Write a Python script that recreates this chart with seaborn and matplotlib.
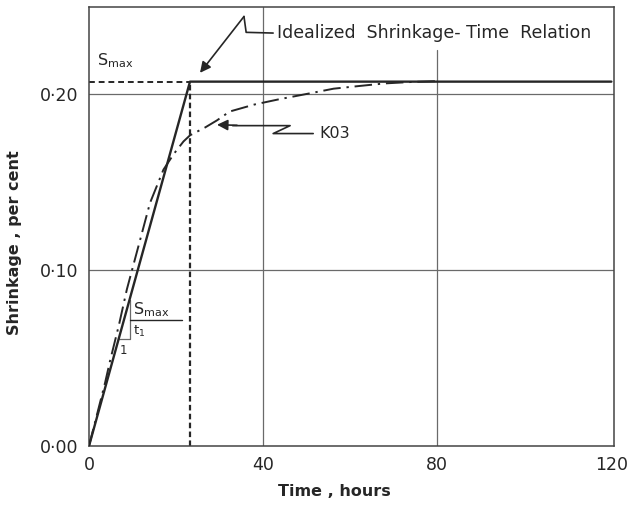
import matplotlib
matplotlib.use("Agg")
import matplotlib.pyplot as plt
import seaborn as sns
import pandas as pd

# ---- data ----
k03_time = [0, 3.7, 4.8, 6.9, 8.7, 11.3, 14.0, 17.1, 19.5, 21.7, 23.2, 26.7, 29.4,
            32.3, 38.0, 43.7, 50.0, 56.2, 62.0, 68.0, 74.0, 80.0]
k03_shrink = [0, 0.036, 0.048, 0.069, 0.089, 0.113, 0.138, 0.157, 0.166, 0.173, 0.1765,
              0.181, 0.185, 0.190, 0.194, 0.197, 0.200, 0.203, 0.2045, 0.206, 0.2068, 0.2073]
s_max = 0.207
t_1 = 23.2
ideal_time = [0, t_1, 120]
ideal_shrink = [0, s_max, s_max]
x_ticks = [0, 40, 80, 120]
x_labels = ["0", "40", "80", "120"]
y_ticks = [0.0, 0.10, 0.20]
y_labels = ["0·00", "0·10", "0·20"]

k03_df = pd.DataFrame({"time": k03_time, "shrink": k03_shrink})
ideal_df = pd.DataFrame({"time": ideal_time, "shrink": ideal_shrink})

sns.set_style("white")
plt.rcParams["font.family"] = ["DejaVu Sans"]

ink = "#262626"
grid = "#6a6a6a"

fig = plt.figure(figsize=(6.33, 5.05), dpi=100)
ax = fig.add_axes([89 / 633, 1 - 446 / 505, (614 - 89) / 633, (446 - 7) / 505])
ax.set_xlim(0, 120.6)
ax.set_ylim(0, 0.2494)

# grid lines
for yv in y_ticks[1:]:
    ax.axhline(yv, color=grid, lw=0.9, zorder=1)
ax.axvline(40, color=grid, lw=0.9, zorder=1)
ax.axvline(80, ymax=(446 - 50) / 439, color=grid, lw=0.9, zorder=1)

# idealized relation
sns.lineplot(data=ideal_df, x="time", y="shrink", ax=ax, color=ink, lw=1.7,
             sort=False, estimator=None, zorder=3)
# K03 curve
sns.lineplot(data=k03_df, x="time", y="shrink", ax=ax, color=ink, lw=1.4,
             linestyle=(0, (9, 3, 1.2, 3)), sort=False, estimator=None, zorder=4)

# S_max dashed guides
ax.plot([0, t_1], [s_max, s_max], color=ink, lw=1.4, linestyle=(0, (3, 2)), zorder=2)
ax.plot([t_1, t_1], [0, s_max], color=ink, lw=1.6, linestyle=(0, (2.5, 1.5)), zorder=2)

ax.text(1.8, 0.219, r"S$_{\rm max}$", fontsize=11.5, color=ink, va="center", ha="left")

# slope triangle
ax.plot([6.7, 9.4, 9.4], [0.061, 0.061, 0.083], color=grid, lw=0.9)
ax.text(7.8, 0.0545, "1", fontsize=8.5, color=ink, ha="center", va="center")
ax.plot([9.4, 21.4], [0.0716, 0.0716], color=ink, lw=1.0)
ax.text(10.0, 0.0772, r"S$_{\rm max}$", fontsize=11.5, color=ink, ha="left", va="center")
ax.text(10.2, 0.0652, r"t$_1$", fontsize=9.5, color=ink, ha="left", va="center")

# idealized label with zig-zag leader
ax.plot([42.3, 36.1, 35.6], [0.2346, 0.2350, 0.2440], color=ink, lw=1.2)
ax.annotate("", xy=(25.5, 0.212), xytext=(35.6, 0.2440),
            arrowprops=dict(arrowstyle="-|>", color=ink, lw=1.2, mutation_scale=16,
                            shrinkA=0, shrinkB=0))
ax.text(43.3, 0.2348, "Idealized  Shrinkage- Time  Relation", fontsize=12.5,
        color=ink, ha="left", va="center")

# K03 label with zig-zag leader
ax.plot([51.5, 42.3, 46.2, 33.0], [0.1775, 0.1775, 0.1820, 0.1820], color=ink, lw=1.2)
ax.annotate("", xy=(29.4, 0.1825), xytext=(34.0, 0.1822),
            arrowprops=dict(arrowstyle="-|>", color=ink, lw=1.2, mutation_scale=16,
                            shrinkA=0, shrinkB=0))
ax.text(53.0, 0.1778, "K03", fontsize=11.5, color=ink, ha="left", va="center")

# axes styling
ax.set_xticks(x_ticks)
ax.set_xticklabels(x_labels)
ax.set_yticks(y_ticks)
ax.set_yticklabels(y_labels)
ax.tick_params(axis="both", length=0, labelsize=12.5, colors=ink)
ax.tick_params(axis="x", pad=7)
ax.tick_params(axis="y", pad=8)
for side in ["left", "bottom", "top", "right"]:
    ax.spines[side].set_visible(True)
    ax.spines[side].set_color("#444444")
    ax.spines[side].set_linewidth(1.1)

ax.set_xlabel("Time , hours", fontsize=11.5, color=ink, fontweight="semibold")
ax.set_ylabel("Shrinkage , per cent", fontsize=11.5, color=ink, fontweight="semibold")
ax.xaxis.set_label_coords((334 - 89) / 525, -(484 - 446) / 439)
ax.yaxis.set_label_coords(-(89 - 22) / 525, (446 - 243) / 439)

fig.savefig("out.png", dpi=100)
